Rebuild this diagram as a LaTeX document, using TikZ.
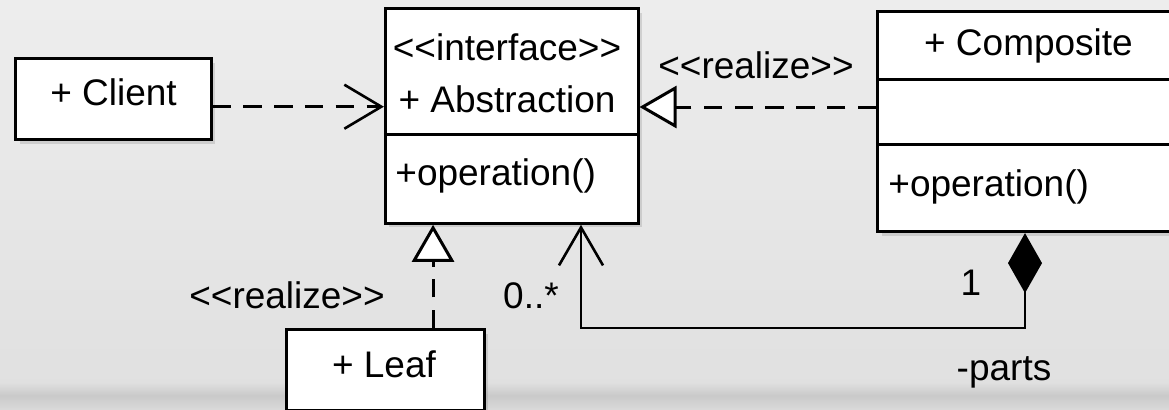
\documentclass[tikz,border=0pt]{standalone}
\usepackage{fontspec}
\setmainfont{Liberation Sans}
\usetikzlibrary{arrows.meta,shadows}
\newcommand\stereo[1]{<{}<#1>{}>}

\begin{document}
\begin{tikzpicture}[x=0.5pt,y=-0.5pt,
  font=\fontsize{18.5}{22}\selectfont,
  classbox/.style={draw,line width=1.5pt,fill=white,inner sep=0pt,
    drop shadow={shadow xshift=2pt,shadow yshift=-2pt,opacity=0.25}},
  txt/.style={inner sep=0pt,anchor=base},
  dep/.style={line width=1.5pt,dash pattern=on 9.2pt off 6.2pt},
  realize/.style={dep,-{Triangle[open,fill=white,length=18.5pt,width=21pt,line width=1.5pt]}},
  use/.style={dep,-{Straight Barb[length=18.5pt,width=22pt,line width=1.3pt]}},
  part/.style={line width=1.4pt,
    {Diamond[length=30pt,width=17pt]}-{Straight Barb[length=19pt,width=22pt,line width=1.3pt]}}]
\useasboundingbox (0,0) rectangle (1169,409);
% backdrop
\shade[top color=black!7,bottom color=black!12] (0,0) rectangle (1169,382);
\shade[top color=black!12,bottom color=black!15,middle color=black!21] (0,382) rectangle (1169,409);
\clip (0,0) rectangle (1169,409);

% classes
\node[classbox,minimum width=97.75pt,minimum height=40.5pt] (client) at (113.25,99) {};
\node[classbox,minimum width=126.3pt,minimum height=107.3pt] (abs) at (511.7,116) {};
\node[classbox,minimum width=150.7pt,minimum height=110.3pt] (comp) at (1028.3,121.3) {};
\node[classbox,minimum width=98.75pt,minimum height=40.5pt] (leaf) at (385.25,370.2) {};
\draw[line width=1.5pt] ([yshift=-9.35pt]abs.west) -- ([yshift=-9.35pt]abs.east);
\draw[line width=1.5pt] ([yshift=20.8pt]comp.west) -- ([yshift=20.8pt]comp.east);
\draw[line width=1.5pt] ([yshift=-11.35pt]comp.west) -- ([yshift=-11.35pt]comp.east);

\node[txt] (clientname) at (113.5,105) {+ Client};
\node[txt] (absstereo) at (507,60) {\stereo{interface}};
\node[txt] (absname) at (507,112) {+ Abstraction};
\node[txt,anchor=base west] (absop) at (395,185) {+operation()};
\node[txt] (compname) at (1028.5,55) {+ Composite};
\node[txt,anchor=base west] (compop) at (888,196) {+operation()};
\node[txt] (leafname) at (384,377) {+ Leaf};

% relations
\draw[use] ([yshift=-3.85pt]client.east) -- ([yshift=-3.85pt]client.east -| abs.west);
\draw[realize] ([yshift=7.15pt]comp.west) -- ([yshift=7.15pt]comp.west -| abs.east);
\draw[realize] ([xshift=23.9pt]leaf.north) -- ([xshift=23.9pt]leaf.north |- abs.south);
\coordinate (bend) at (1025,328);
\coordinate (corner) at (581,328);
\draw[part] (comp.south -| bend) -- (bend) -- (corner) -- (corner |- abs.south);

\node[txt] (toplabel) at (756,78) {\stereo{realize}};
\node[txt] (leftlabel) at (287,308) {\stereo{realize}};
\node[txt] (many) at (531,308) {0..*};
\node[txt] (one) at (971,295) {1};
\node[txt] (parts) at (1004,380) {-parts};
\end{tikzpicture}
\end{document}
